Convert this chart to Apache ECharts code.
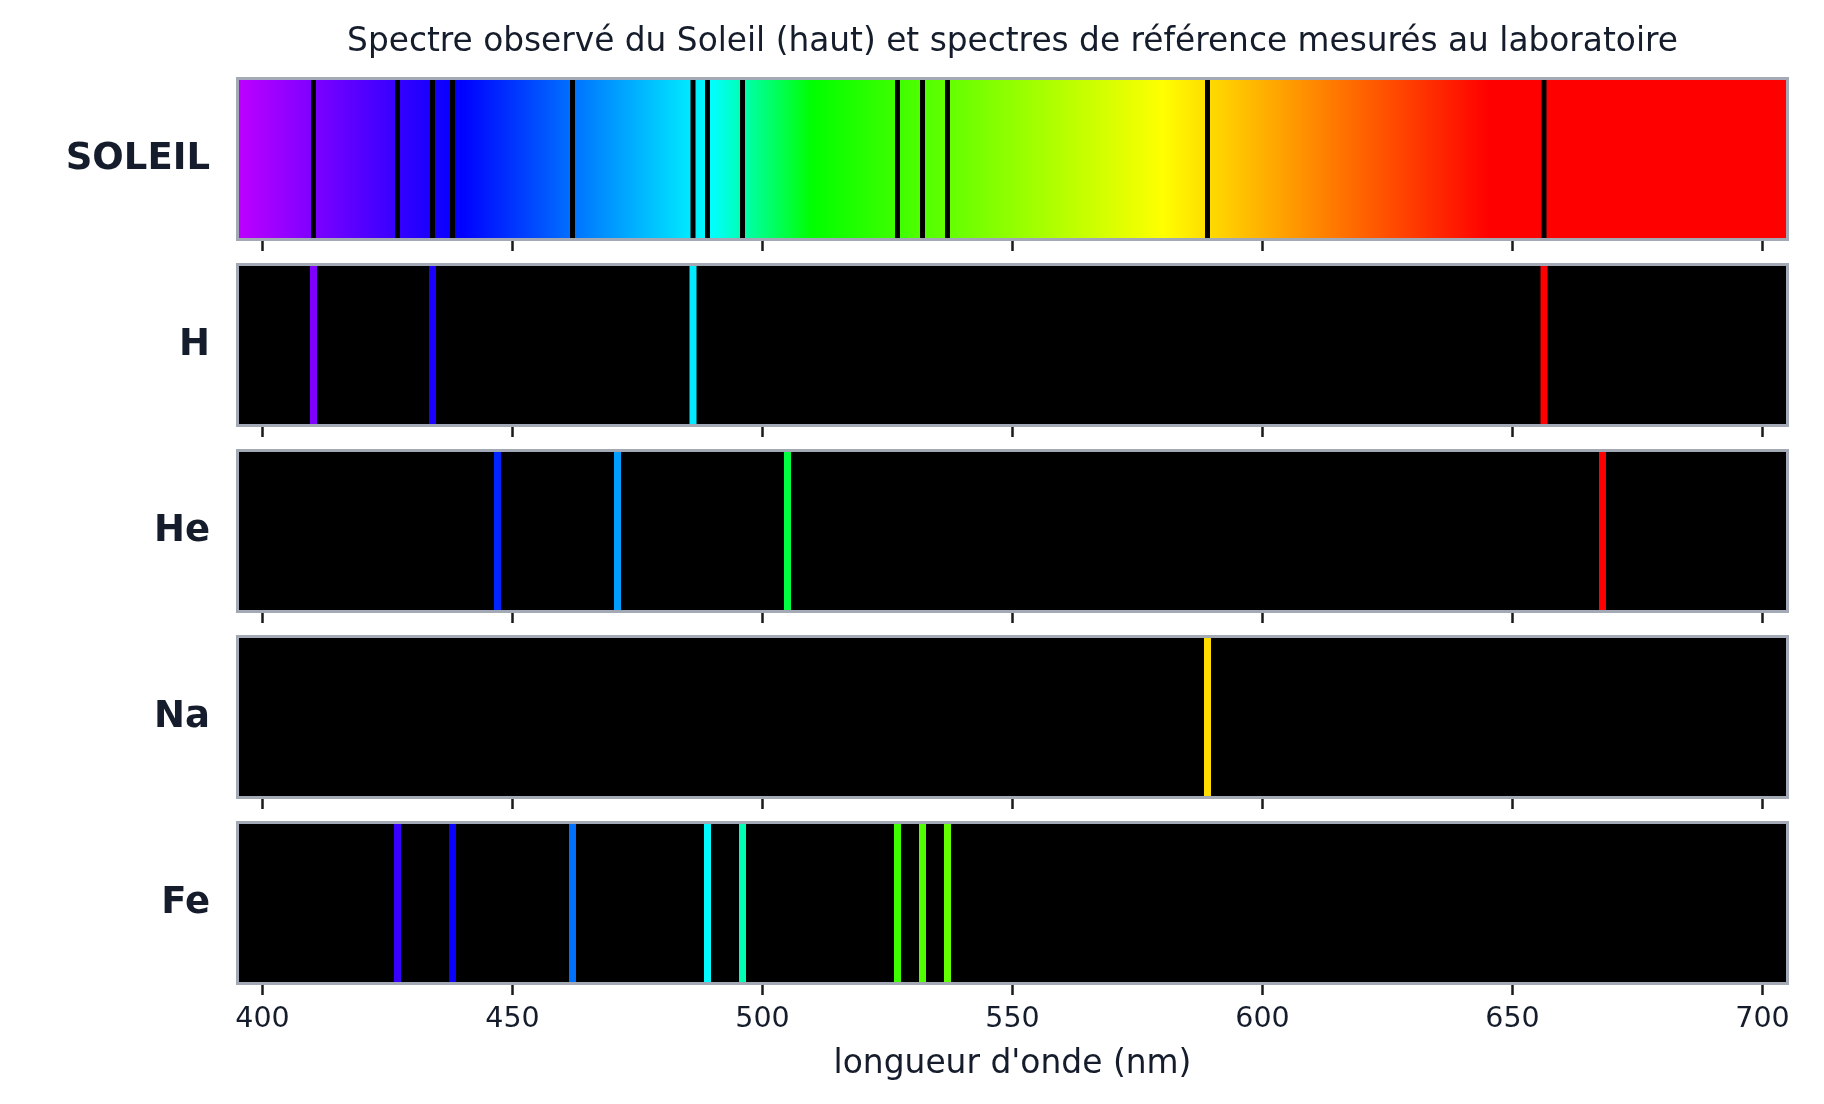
<!DOCTYPE html>
<html>
<head>
<meta charset="utf-8">
<title>Spectres</title>
<script src="https://cdn.jsdelivr.net/npm/echarts@6.0.0/dist/echarts.min.js"></script>
<style>
  html, body { margin: 0; padding: 0; background: #fff; }
  #chart { width: 1824px; height: 1104px; }
</style>
</head>
<body>
<div id="chart"></div>
<script>
// rows, top to bottom
const rowNames = ["SOLEIL", "H", "He", "Na", "Fe"];
const tickValues = [400, 450, 500, 550, 600, 650, 700];

// wavelengths (nm)
const solarLines = [410.2, 427, 434, 438, 462, 486.1, 489, 496, 527, 532, 537, 589, 656.3];
const hLines = [410.2, 434, 486.1, 656.3];
const heLines = [447, 471, 505, 668];
const naLines = [589];
const feLines = [427, 438, 462, 489, 496, 527, 532, 537];
const rowLines = [solarLines, hLines, heLines, naLines, feLines];

const lambdaMin = 395;
const lambdaMax = 705;

(() => {
  const FONT = "DejaVu Sans";
  const TEXT = "#151c2b";
  const BORDER = "#a3aab5";

  // classic wavelength -> rgb (no edge dimming)
  const wavelengthColor = (w) => {
    let r = 0, g = 0, b = 0;
    if (w < 440) { r = (440 - w) / 60; b = 1; }
    else if (w < 490) { g = (w - 440) / 50; b = 1; }
    else if (w < 510) { g = 1; b = (510 - w) / 20; }
    else if (w < 580) { r = (w - 510) / 70; g = 1; }
    else if (w < 645) { r = 1; g = (645 - w) / 65; }
    else { r = 1; }
    const c = (v) => Math.round(Math.max(0, Math.min(1, v)) * 255);
    return "rgb(" + c(r) + "," + c(g) + "," + c(b) + ")";
  };

  const sunGradient = {
    type: "linear", x: 0, y: 0, x2: 1, y2: 0,
    colorStops: [lambdaMin, 440, 490, 510, 580, 645, lambdaMax].map((w) => ({
      offset: (w - lambdaMin) / (lambdaMax - lambdaMin),
      color: wavelengthColor(w),
    })),
  };

  const left = 237.5, width = 1550, top0 = 78.5, step = 186, height = 161;
  const last = rowNames.length - 1;

  const grid = [], xAxis = [], yAxis = [], series = [];
  rowNames.forEach((name, i) => {
    grid.push({
      left: left, top: top0 + i * step, width: width, height: height,
      show: true,
      backgroundColor: i === 0 ? sunGradient : "#000",
      borderColor: BORDER,
      borderWidth: 3,
      outerBoundsMode: "none",
    });
    xAxis.push({
      gridIndex: i,
      type: "value",
      min: lambdaMin,
      max: lambdaMax,
      offset: 1.5,
      axisLine: { show: false },
      splitLine: { show: false },
      axisTick: {
        show: true, length: 10, customValues: tickValues,
        lineStyle: { color: "#1a1a1a", width: 2.5 },
      },
      axisLabel: {
        show: i === last, customValues: tickValues, margin: 20,
        fontFamily: FONT, fontSize: 28.5, color: TEXT,
      },
      name: i === last ? "longueur d'onde (nm)" : "",
      nameLocation: "middle",
      nameGap: 63,
      nameTextStyle: { fontFamily: FONT, fontSize: 32.9, color: TEXT },
    });
    yAxis.push({
      gridIndex: i,
      type: "category",
      data: [name],
      axisLine: { show: false },
      axisTick: { show: false },
      splitLine: { show: false },
      axisLabel: {
        margin: 27.5, fontFamily: FONT, fontWeight: "bold",
        fontSize: 37, color: TEXT, padding: [0, 0, 6, 0],
      },
    });
    const lineWidth = i === 0 ? 5 : 7;
    series.push({
      type: "custom",
      xAxisIndex: i,
      yAxisIndex: i,
      silent: true,
      encode: { x: 0, y: 1 },
      data: rowLines[i].map((w) => [w, 0]),
      renderItem: (params, api) => {
        const cs = params.coordSys;
        const w = api.value(0);
        const x = api.coord([w, 0])[0];
        return {
          type: "rect",
          shape: { x: x - lineWidth / 2, y: cs.y + 1.5, width: lineWidth, height: cs.height - 3 },
          style: { fill: i === 0 ? "#000" : wavelengthColor(w) },
        };
      },
    });
  });

  const myChart = echarts.init(document.querySelector("#chart"));
  myChart.setOption({
    animation: false,
    backgroundColor: "#fff",
    graphic: [{
      type: "text",
      x: left + width / 2,
      y: 42.5,
      style: {
        text: "Spectre observé du Soleil (haut) et spectres de référence mesurés au laboratoire",
        font: "32.8px '" + FONT + "'",
        fill: TEXT,
        align: "center",
        verticalAlign: "middle",
      },
    }],
    grid: grid,
    xAxis: xAxis,
    yAxis: yAxis,
    series: series,
  });
  window.addEventListener("resize", () => {
    myChart.resize();
  });
})();
</script>
</body>
</html>
